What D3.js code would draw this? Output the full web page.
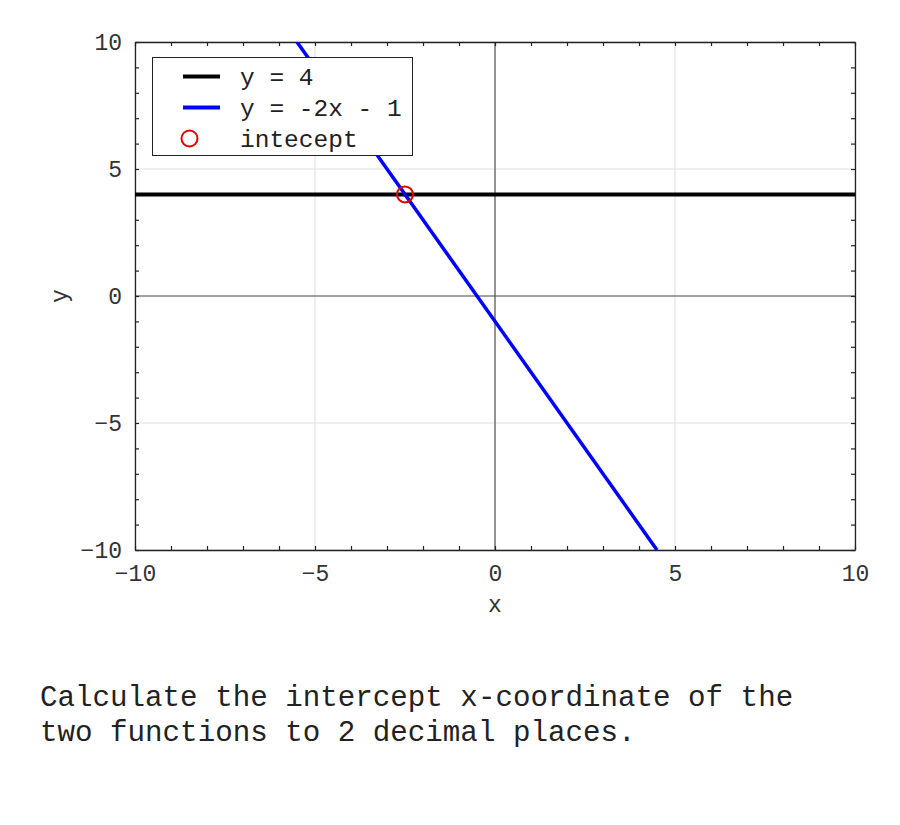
<!DOCTYPE html>
<html><head><meta charset="utf-8">
<script src="https://cdn.jsdelivr.net/npm/d3@7"></script>
<style>body{margin:0;background:#fff}</style>
</head><body>
<script>
const xDomain = [-10, 10];
const yDomain = [-10, 10];
const majorTicks = [-10, -5, 0, 5, 10];
const minorTicks = d3.range(-10, 11, 1);
const lineFlat = [[-10, 4], [10, 4]];                 // y = 4
const lineSlope = [[-5.5, 10], [4.5, -10]];          // y = -2x - 1
const interceptPoint = [[-2.5, 4]];
const legendLabels = ["y = 4", "y = -2x - 1", "intecept"];
const question = ["Calculate the intercept x-coordinate of the", "two functions to 2 decimal places."];

const W = 900, H = 825;
const L = 135, R = 855, T = 42, B = 550;
const font = "'Liberation Mono', 'DejaVu Sans Mono', monospace";

const svg = d3.select("body").append("svg").attr("width", W).attr("height", H);
const x = d3.scaleLinear().domain(xDomain).range([L, R]);
const y = d3.scaleLinear().domain(yDomain).range([B, T]);

// grid
svg.append("g").selectAll("line").data(majorTicks).join("line")
  .attr("x1", d => x(d)).attr("x2", d => x(d)).attr("y1", T).attr("y2", B)
  .attr("stroke", "#e0e0e0").attr("stroke-width", 1);
svg.append("g").selectAll("line").data(majorTicks).join("line")
  .attr("y1", d => y(d)).attr("y2", d => y(d)).attr("x1", L).attr("x2", R)
  .attr("stroke", "#e0e0e0").attr("stroke-width", 1);

// zero axes
svg.append("line").attr("x1", x(0)).attr("x2", x(0)).attr("y1", T).attr("y2", B)
  .attr("stroke", "#555").attr("stroke-width", 1.2);
svg.append("line").attr("y1", y(0)).attr("y2", y(0)).attr("x1", L).attr("x2", R)
  .attr("stroke", "#555").attr("stroke-width", 1.2);

// axes with inward ticks
const tickFmt = d => majorTicks.includes(d) ? String(d).replace("-", "\u2212") : "";
function styleAxis(g) {
  g.select(".domain").attr("stroke", "#222").attr("stroke-width", 1.3);
  g.selectAll(".tick line").attr("stroke", "#222").attr("stroke-width", 1.2);
  g.selectAll("text").attr("font-family", font).attr("font-size", 23).attr("fill", "#333");
}
svg.append("g").attr("transform", `translate(0,${B})`)
  .call(d3.axisBottom(x).tickValues(minorTicks).tickSizeInner(-4).tickSizeOuter(0).tickPadding(15).tickFormat(tickFmt))
  .call(styleAxis);
svg.append("g").attr("transform", `translate(0,${T})`)
  .call(d3.axisTop(x).tickValues(minorTicks).tickSizeInner(-4).tickSizeOuter(0).tickFormat(""))
  .call(styleAxis);
svg.append("g").attr("transform", `translate(${L},0)`)
  .call(d3.axisLeft(y).tickValues(minorTicks).tickSizeInner(-4).tickSizeOuter(0).tickPadding(13).tickFormat(tickFmt))
  .call(styleAxis);
svg.append("g").attr("transform", `translate(${R},0)`)
  .call(d3.axisRight(y).tickValues(minorTicks).tickSizeInner(-4).tickSizeOuter(0).tickFormat(""))
  .call(styleAxis);

// axis labels
svg.append("text").attr("x", (L + R) / 2).attr("y", 612).attr("text-anchor", "middle")
  .attr("font-family", font).attr("font-size", 23).attr("fill", "#333").text("x");
svg.append("text").attr("transform", `translate(67,${(T + B) / 2}) rotate(-90)`).attr("text-anchor", "middle")
  .attr("font-family", font).attr("font-size", 23).attr("fill", "#333").text("y");

// lines
const lineGen = d3.line().x(d => x(d[0])).y(d => y(d[1]));
svg.append("clipPath").attr("id", "c").append("rect")
  .attr("x", L).attr("y", T).attr("width", R - L).attr("height", B - T);
svg.append("path").datum(lineFlat).attr("d", lineGen).attr("fill", "none")
  .attr("stroke", "#000").attr("stroke-width", 4).attr("clip-path", "url(#c)");
svg.append("path").datum(lineSlope).attr("d", lineGen).attr("fill", "none")
  .attr("stroke", "#0000ff").attr("stroke-width", 3.5).attr("clip-path", "url(#c)");
svg.selectAll("circle.pt").data(interceptPoint).join("circle").attr("class", "pt")
  .attr("cx", d => x(d[0])).attr("cy", d => y(d[1])).attr("r", 8)
  .attr("fill", "none").attr("stroke", "#e00000").attr("stroke-width", 2);

// legend
const lg = svg.append("g");
lg.append("rect").attr("x", 152.5).attr("y", 57.5).attr("width", 260).attr("height", 98)
  .attr("fill", "#fff").attr("stroke", "#222").attr("stroke-width", 1);
const legendStyles = [
  {type: "line", color: "#000", w: 4},
  {type: "line", color: "#0000ff", w: 4},
  {type: "circle", color: "#e00000"}
];
legendLabels.forEach((lab, i) => {
  const cy = 76.5 + i * 31;
  const s = legendStyles[i];
  if (s.type === "line") {
    lg.append("line").attr("x1", 183).attr("x2", 220).attr("y1", cy).attr("y2", cy)
      .attr("stroke", s.color).attr("stroke-width", s.w);
  } else {
    lg.append("circle").attr("cx", 189.5).attr("cy", cy).attr("r", 8)
      .attr("fill", "none").attr("stroke", s.color).attr("stroke-width", 2);
  }
  lg.append("text").attr("x", 240).attr("y", cy + 8.5).attr("font-family", font)
    .attr("font-size", 24.5).attr("fill", "#222").text(lab);
});

// question text
question.forEach((q, i) => {
  svg.append("text").attr("x", 40).attr("y", 706 + i * 35).attr("font-family", font)
    .attr("font-size", 29.2).attr("fill", "#222").text(q);
});
</script>
</body></html>
